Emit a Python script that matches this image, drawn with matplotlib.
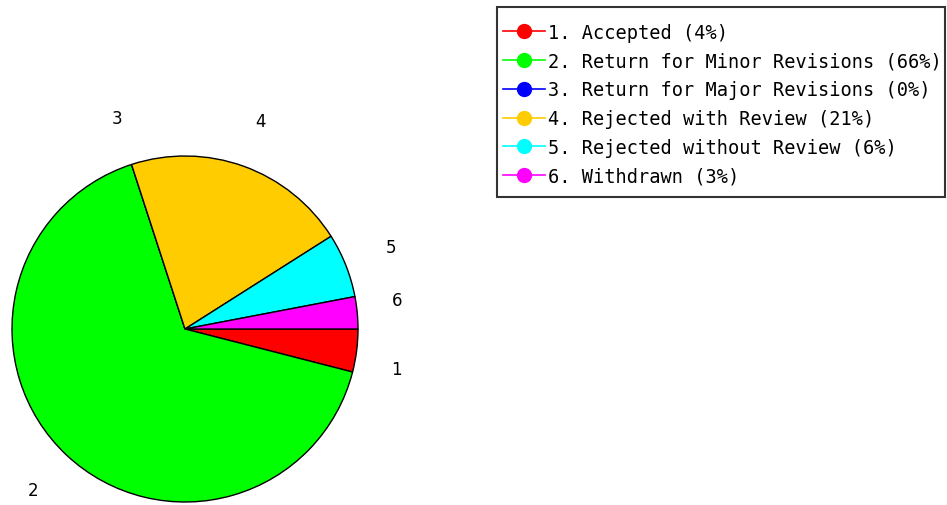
import matplotlib.pyplot as plt
from matplotlib.lines import Line2D
from matplotlib.patches import Rectangle

# data
numbers = ["1", "2", "3", "4", "5", "6"]
categories = ["Accepted", "Return for Minor Revisions", "Return for Major Revisions",
              "Rejected with Review", "Rejected without Review", "Withdrawn"]
percents = [4, 66, 0, 21, 6, 3]
colors = ["#ff0000", "#00ff00", "#0000ff", "#ffcc00", "#00ffff", "#ff00ff"]

W, H = 947, 506
fig = plt.figure(figsize=(W / 100, H / 100), dpi=100)

# pie occupies x 12..358, y 157..503 (pixels from top)
ax = fig.add_axes([12 / W, 3 / H, 346 / W, 346 / H])
wedges, texts = ax.pie(percents, labels=numbers, colors=colors, startangle=0,
                       counterclock=False, labeldistance=1.28,
                       wedgeprops=dict(edgecolor="black", linewidth=1),
                       textprops=dict(family="DejaVu Sans", fontsize=12,
                                      ha="center", va="center"))
# spread the two small-slice labels next to the 0 degree line a bit apart
x, y = texts[0].get_position()
texts[0].set_position((x - 0.05, y - 0.07))
x, y = texts[5].get_position()
texts[5].set_position((x - 0.05, y + 0.05))
ax.set_xlim(-1, 1)
ax.set_ylim(-1, 1)
ax.axis("off")

# legend box
fig.patches.append(Rectangle((497 / W, 1 - 198 / H), 448 / W, 190 / H,
                             transform=fig.transFigure, facecolor="white",
                             edgecolor="#333333", linewidth=1.5, zorder=0))

handles = [Line2D([0], [0], color=c, marker="o", markersize=10, linewidth=1.2)
           for c in colors]
labels = [f"{n}. {cat} ({p}%)" for n, cat, p in zip(numbers, categories, percents)]
leg = fig.legend(handles, labels, loc="upper left",
                 bbox_to_anchor=(503 / W, 1 - 24 / H), borderaxespad=0,
                 prop=dict(family="DejaVu Sans Mono", size=13.4),
                 frameon=False, borderpad=0,
                 handlelength=2.25, handletextpad=0.15, labelspacing=0.52)

fig.savefig("out.png", dpi=100)
